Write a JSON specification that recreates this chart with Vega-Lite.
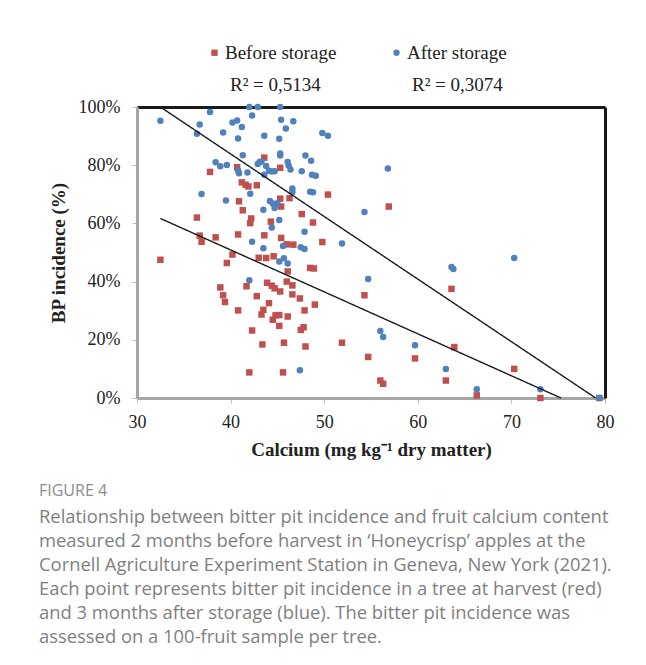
{
  "$schema": "https://vega.github.io/schema/vega-lite/v6.json",
  "width": 468,
  "height": 291,
  "autosize": "none",
  "padding": {"left": 137, "top": 107, "right": 41, "bottom": 267},
  "background": "white",
  "config": {"view": {"stroke": null}, "font": "Liberation Serif"},
  "title": {
    "text": "FIGURE 4",
    "subtitle": [
      "Relationship between bitter pit incidence and fruit calcium content",
      "measured 2 months before harvest in ‘Honeycrisp’ apples at the",
      "Cornell Agriculture Experiment Station in Geneva, New York (2021).",
      "Each point represents bitter pit incidence in a tree at harvest (red)",
      "and 3 months after storage (blue). The bitter pit incidence was",
      "assessed on a 100-fruit sample per tree."
    ],
    "orient": "bottom",
    "anchor": "start",
    "frame": "bounds",
    "font": "Open Sans",
    "fontSize": 16,
    "fontWeight": "normal",
    "color": "#8c8c8c",
    "subtitleFont": "Open Sans",
    "subtitleFontSize": 18.4,
    "subtitleColor": "#7f7f7f",
    "subtitleLineHeight": 24,
    "subtitlePadding": 9,
    "offset": 24,
    "dx": -10
  },
  "layer": [
    {
      "data": {
        "values": [
          {"series": "Before storage", "calcium": 32.5, "bp": 47.5},
          {"series": "Before storage", "calcium": 36.4, "bp": 62.0},
          {"series": "Before storage", "calcium": 36.7, "bp": 55.8},
          {"series": "Before storage", "calcium": 36.9, "bp": 53.7},
          {"series": "Before storage", "calcium": 37.8, "bp": 77.7},
          {"series": "Before storage", "calcium": 38.4, "bp": 55.2},
          {"series": "Before storage", "calcium": 38.9, "bp": 38.0},
          {"series": "Before storage", "calcium": 39.2, "bp": 35.3},
          {"series": "Before storage", "calcium": 39.4, "bp": 33.0},
          {"series": "Before storage", "calcium": 39.6, "bp": 46.4},
          {"series": "Before storage", "calcium": 40.2, "bp": 49.3},
          {"series": "Before storage", "calcium": 40.7, "bp": 79.3},
          {"series": "Before storage", "calcium": 40.8, "bp": 56.2},
          {"series": "Before storage", "calcium": 40.8, "bp": 30.1},
          {"series": "Before storage", "calcium": 40.9, "bp": 67.6},
          {"series": "Before storage", "calcium": 41.2, "bp": 74.1},
          {"series": "Before storage", "calcium": 41.3, "bp": 64.5},
          {"series": "Before storage", "calcium": 41.6, "bp": 73.3},
          {"series": "Before storage", "calcium": 41.7, "bp": 38.4},
          {"series": "Before storage", "calcium": 41.9, "bp": 72.7},
          {"series": "Before storage", "calcium": 42.0, "bp": 8.8},
          {"series": "Before storage", "calcium": 42.1, "bp": 60.1},
          {"series": "Before storage", "calcium": 42.2, "bp": 61.7},
          {"series": "Before storage", "calcium": 42.3, "bp": 23.2},
          {"series": "Before storage", "calcium": 42.8, "bp": 73.1},
          {"series": "Before storage", "calcium": 42.8, "bp": 35.0},
          {"series": "Before storage", "calcium": 43.0, "bp": 48.2},
          {"series": "Before storage", "calcium": 43.3, "bp": 28.7},
          {"series": "Before storage", "calcium": 43.4, "bp": 18.4},
          {"series": "Before storage", "calcium": 43.5, "bp": 30.3},
          {"series": "Before storage", "calcium": 43.6, "bp": 82.6},
          {"series": "Before storage", "calcium": 43.6, "bp": 55.9},
          {"series": "Before storage", "calcium": 43.8, "bp": 48.1},
          {"series": "Before storage", "calcium": 43.9, "bp": 39.6},
          {"series": "Before storage", "calcium": 44.1, "bp": 32.6},
          {"series": "Before storage", "calcium": 44.3, "bp": 60.6},
          {"series": "Before storage", "calcium": 44.4, "bp": 38.6},
          {"series": "Before storage", "calcium": 44.5, "bp": 26.9},
          {"series": "Before storage", "calcium": 44.6, "bp": 48.7},
          {"series": "Before storage", "calcium": 44.7, "bp": 37.7},
          {"series": "Before storage", "calcium": 44.8, "bp": 28.4},
          {"series": "Before storage", "calcium": 45.2, "bp": 28.5},
          {"series": "Before storage", "calcium": 45.2, "bp": 24.8},
          {"series": "Before storage", "calcium": 45.3, "bp": 79.1},
          {"series": "Before storage", "calcium": 45.3, "bp": 68.5},
          {"series": "Before storage", "calcium": 45.3, "bp": 36.6},
          {"series": "Before storage", "calcium": 45.4, "bp": 65.8},
          {"series": "Before storage", "calcium": 45.4, "bp": 55.0},
          {"series": "Before storage", "calcium": 45.6, "bp": 8.8},
          {"series": "Before storage", "calcium": 45.7, "bp": 19.0},
          {"series": "Before storage", "calcium": 46.0, "bp": 52.8},
          {"series": "Before storage", "calcium": 46.0, "bp": 40.0},
          {"series": "Before storage", "calcium": 46.1, "bp": 43.5},
          {"series": "Before storage", "calcium": 46.1, "bp": 28.0},
          {"series": "Before storage", "calcium": 46.3, "bp": 68.7},
          {"series": "Before storage", "calcium": 46.6, "bp": 38.7},
          {"series": "Before storage", "calcium": 46.6, "bp": 35.6},
          {"series": "Before storage", "calcium": 46.7, "bp": 52.7},
          {"series": "Before storage", "calcium": 47.4, "bp": 34.2},
          {"series": "Before storage", "calcium": 47.5, "bp": 23.4},
          {"series": "Before storage", "calcium": 47.6, "bp": 63.2},
          {"series": "Before storage", "calcium": 47.8, "bp": 24.3},
          {"series": "Before storage", "calcium": 47.9, "bp": 30.1},
          {"series": "Before storage", "calcium": 48.0, "bp": 17.7},
          {"series": "Before storage", "calcium": 48.5, "bp": 44.7},
          {"series": "Before storage", "calcium": 48.8, "bp": 60.3},
          {"series": "Before storage", "calcium": 48.9, "bp": 44.5},
          {"series": "Before storage", "calcium": 49.0, "bp": 32.1},
          {"series": "Before storage", "calcium": 49.8, "bp": 53.6},
          {"series": "Before storage", "calcium": 50.4, "bp": 69.9},
          {"series": "Before storage", "calcium": 51.9, "bp": 19.0},
          {"series": "Before storage", "calcium": 54.3, "bp": 35.3},
          {"series": "Before storage", "calcium": 54.7, "bp": 14.1},
          {"series": "Before storage", "calcium": 56.0, "bp": 6.0},
          {"series": "Before storage", "calcium": 56.3, "bp": 4.9},
          {"series": "Before storage", "calcium": 56.9, "bp": 65.8},
          {"series": "Before storage", "calcium": 59.7, "bp": 13.6},
          {"series": "Before storage", "calcium": 63.0, "bp": 6.0},
          {"series": "Before storage", "calcium": 63.6, "bp": 37.5},
          {"series": "Before storage", "calcium": 63.9, "bp": 17.5},
          {"series": "Before storage", "calcium": 66.3, "bp": 0.9},
          {"series": "Before storage", "calcium": 70.3, "bp": 10.0},
          {"series": "Before storage", "calcium": 73.1, "bp": 0},
          {"series": "Before storage", "calcium": 79.4, "bp": 0},
          {"series": "After storage", "calcium": 32.5, "bp": 95.3},
          {"series": "After storage", "calcium": 36.4, "bp": 90.8},
          {"series": "After storage", "calcium": 36.7, "bp": 94.0},
          {"series": "After storage", "calcium": 36.9, "bp": 70.1},
          {"series": "After storage", "calcium": 37.8, "bp": 98.3},
          {"series": "After storage", "calcium": 38.4, "bp": 81.0},
          {"series": "After storage", "calcium": 38.9, "bp": 79.6},
          {"series": "After storage", "calcium": 39.2, "bp": 91.2},
          {"series": "After storage", "calcium": 39.5, "bp": 67.9},
          {"series": "After storage", "calcium": 39.6, "bp": 80.1},
          {"series": "After storage", "calcium": 40.2, "bp": 94.7},
          {"series": "After storage", "calcium": 40.7, "bp": 95.4},
          {"series": "After storage", "calcium": 40.8, "bp": 89.2},
          {"series": "After storage", "calcium": 40.8, "bp": 78.2},
          {"series": "After storage", "calcium": 40.9, "bp": 77.2},
          {"series": "After storage", "calcium": 41.2, "bp": 93.1},
          {"series": "After storage", "calcium": 41.3, "bp": 83.4},
          {"series": "After storage", "calcium": 41.8, "bp": 77.5},
          {"series": "After storage", "calcium": 42.0, "bp": 100},
          {"series": "After storage", "calcium": 42.0, "bp": 40.5},
          {"series": "After storage", "calcium": 42.1, "bp": 70.2},
          {"series": "After storage", "calcium": 42.3, "bp": 97.1},
          {"series": "After storage", "calcium": 42.3, "bp": 53.7},
          {"series": "After storage", "calcium": 42.9, "bp": 100},
          {"series": "After storage", "calcium": 42.9, "bp": 80.4},
          {"series": "After storage", "calcium": 43.1, "bp": 81.1},
          {"series": "After storage", "calcium": 43.3, "bp": 81.3},
          {"series": "After storage", "calcium": 43.5, "bp": 64.7},
          {"series": "After storage", "calcium": 43.5, "bp": 51.5},
          {"series": "After storage", "calcium": 43.6, "bp": 90.1},
          {"series": "After storage", "calcium": 43.6, "bp": 76.7},
          {"series": "After storage", "calcium": 43.8, "bp": 79.7},
          {"series": "After storage", "calcium": 44.1, "bp": 78.1},
          {"series": "After storage", "calcium": 44.2, "bp": 67.7},
          {"series": "After storage", "calcium": 44.4, "bp": 77.8},
          {"series": "After storage", "calcium": 44.4, "bp": 58.6},
          {"series": "After storage", "calcium": 44.5, "bp": 66.8},
          {"series": "After storage", "calcium": 44.7, "bp": 77.9},
          {"series": "After storage", "calcium": 44.7, "bp": 65.3},
          {"series": "After storage", "calcium": 45.0, "bp": 66.9},
          {"series": "After storage", "calcium": 45.2, "bp": 89.1},
          {"series": "After storage", "calcium": 45.2, "bp": 61.2},
          {"series": "After storage", "calcium": 45.2, "bp": 46.9},
          {"series": "After storage", "calcium": 45.3, "bp": 100},
          {"series": "After storage", "calcium": 45.3, "bp": 84.0},
          {"series": "After storage", "calcium": 45.3, "bp": 83.3},
          {"series": "After storage", "calcium": 45.4, "bp": 95.6},
          {"series": "After storage", "calcium": 45.6, "bp": 52.2},
          {"series": "After storage", "calcium": 45.7, "bp": 48.0},
          {"series": "After storage", "calcium": 45.9, "bp": 92.6},
          {"series": "After storage", "calcium": 46.1, "bp": 46.2},
          {"series": "After storage", "calcium": 46.1, "bp": 81.1},
          {"series": "After storage", "calcium": 46.2, "bp": 79.9},
          {"series": "After storage", "calcium": 46.4, "bp": 78.5},
          {"series": "After storage", "calcium": 46.6, "bp": 72.0},
          {"series": "After storage", "calcium": 46.6, "bp": 70.8},
          {"series": "After storage", "calcium": 46.7, "bp": 95.1},
          {"series": "After storage", "calcium": 47.4, "bp": 9.5},
          {"series": "After storage", "calcium": 47.5, "bp": 51.8},
          {"series": "After storage", "calcium": 47.6, "bp": 77.9},
          {"series": "After storage", "calcium": 47.9, "bp": 57.1},
          {"series": "After storage", "calcium": 47.9, "bp": 51.2},
          {"series": "After storage", "calcium": 48.0, "bp": 83.3},
          {"series": "After storage", "calcium": 48.5, "bp": 70.9},
          {"series": "After storage", "calcium": 48.6, "bp": 81.5},
          {"series": "After storage", "calcium": 48.7, "bp": 76.7},
          {"series": "After storage", "calcium": 48.8, "bp": 70.7},
          {"series": "After storage", "calcium": 49.1, "bp": 76.4},
          {"series": "After storage", "calcium": 49.8, "bp": 91.1},
          {"series": "After storage", "calcium": 50.4, "bp": 90.1},
          {"series": "After storage", "calcium": 51.9, "bp": 53.1},
          {"series": "After storage", "calcium": 54.3, "bp": 63.9},
          {"series": "After storage", "calcium": 54.7, "bp": 40.9},
          {"series": "After storage", "calcium": 56.0, "bp": 23.0},
          {"series": "After storage", "calcium": 56.3, "bp": 21.0},
          {"series": "After storage", "calcium": 56.8, "bp": 78.9},
          {"series": "After storage", "calcium": 59.7, "bp": 18.1},
          {"series": "After storage", "calcium": 63.0, "bp": 10.0},
          {"series": "After storage", "calcium": 63.6, "bp": 45.0},
          {"series": "After storage", "calcium": 63.8, "bp": 44.3},
          {"series": "After storage", "calcium": 66.3, "bp": 3.0},
          {"series": "After storage", "calcium": 70.3, "bp": 48.1},
          {"series": "After storage", "calcium": 73.1, "bp": 3.0},
          {"series": "After storage", "calcium": 79.4, "bp": 0}
        ]
      },
      "mark": {"type": "point", "filled": true, "opacity": 1, "size": 42},
      "encoding": {
        "x": {
          "field": "calcium",
          "type": "quantitative",
          "scale": {"domain": [30, 80], "nice": false, "zero": false},
          "axis": {
            "values": [30, 40, 50, 60, 70, 80],
            "grid": false,
            "domainColor": "#a6a6a6",
            "domainWidth": 3,
            "tickColor": "#bfbfbf",
            "tickSize": 5,
            "tickWidth": 1,
            "labelFont": "Liberation Serif",
            "labelFontSize": 18,
            "labelColor": "#222222",
            "labelPadding": 10,
            "labelFlush": false,
            "title": "Calcium (mg kg⁻¹ dry matter)",
            "titleFont": "Liberation Serif",
            "titleFontSize": 19,
            "titleFontWeight": "bold",
            "titleColor": "#222222",
            "titlePadding": 9
          }
        },
        "y": {
          "field": "bp",
          "type": "quantitative",
          "scale": {"domain": [0, 100], "nice": false},
          "axis": {
            "values": [0, 20, 40, 60, 80, 100],
            "labelExpr": "datum.value + '%'",
            "grid": false,
            "domainColor": "#a6a6a6",
            "domainWidth": 3,
            "tickColor": "#bfbfbf",
            "tickSize": 5,
            "tickWidth": 1,
            "labelFont": "Liberation Serif",
            "labelFontSize": 18,
            "labelColor": "#222222",
            "labelPadding": 12,
            "labelFlush": false,
            "title": "BP incidence (%)",
            "titleFont": "Liberation Serif",
            "titleFontSize": 19,
            "titleFontWeight": "bold",
            "titleColor": "#222222",
            "titlePadding": 10
          }
        },
        "color": {
          "field": "series",
          "type": "nominal",
          "scale": {"domain": ["Before storage", "After storage"], "range": ["#C0504D", "#4F81BD"]},
          "legend": {
            "orient": "none",
            "legendX": 68,
            "legendY": -64,
            "direction": "horizontal",
            "title": null,
            "padding": 0,
            "labelFont": "Liberation Serif",
            "labelFontSize": 19,
            "labelColor": "#222222",
            "symbolSize": 40,
            "labelOffset": 1,
            "columnPadding": 50
          }
        },
        "shape": {
          "field": "series",
          "type": "nominal",
          "scale": {"domain": ["Before storage", "After storage"], "range": ["square", "circle"]},
          "legend": {
            "orient": "none",
            "legendX": 68,
            "legendY": -64,
            "direction": "horizontal",
            "title": null,
            "padding": 0,
            "labelFont": "Liberation Serif",
            "labelFontSize": 19,
            "labelColor": "#222222",
            "symbolSize": 40,
            "labelOffset": 1,
            "columnPadding": 50
          }
        }
      }
    },
    {
      "data": {
        "values": [
          {"trend": "R² = 0,5134", "calcium": 32.5, "bp": 61.7},
          {"trend": "R² = 0,5134", "calcium": 75.3, "bp": 0},
          {"trend": "R² = 0,3074", "calcium": 32.5, "bp": 100},
          {"trend": "R² = 0,3074", "calcium": 79.0, "bp": 0}
        ]
      },
      "mark": {"type": "line", "color": "#1a1a1a", "strokeWidth": 1.4},
      "encoding": {
        "x": {
          "field": "calcium",
          "type": "quantitative",
          "scale": {"domain": [30, 80], "nice": false, "zero": false},
          "axis": {"orient": "top", "labels": false, "ticks": false, "grid": false, "title": null, "domainColor": "#1a1a1a", "domainWidth": 3}
        },
        "y": {
          "field": "bp",
          "type": "quantitative",
          "scale": {"domain": [0, 100], "nice": false},
          "axis": {"orient": "right", "labels": false, "ticks": false, "grid": false, "title": null, "domainColor": "#1a1a1a", "domainWidth": 3}
        },
        "strokeDash": {
          "field": "trend",
          "type": "nominal",
          "scale": {"domain": ["R² = 0,5134", "R² = 0,3074"], "range": [[1, 0], [1, 0]]},
          "legend": {
            "orient": "none",
            "legendX": 67,
            "legendY": -32,
            "direction": "horizontal",
            "title": null,
            "padding": 0,
            "labelFont": "Liberation Serif",
            "labelFontSize": 19,
            "labelColor": "#222222",
            "symbolSize": 40,
            "symbolOpacity": 0,
            "labelOffset": 7,
            "columnPadding": 65
          }
        }
      }
    }
  ],
  "resolve": {"axis": {"x": "independent", "y": "independent"}}
}
